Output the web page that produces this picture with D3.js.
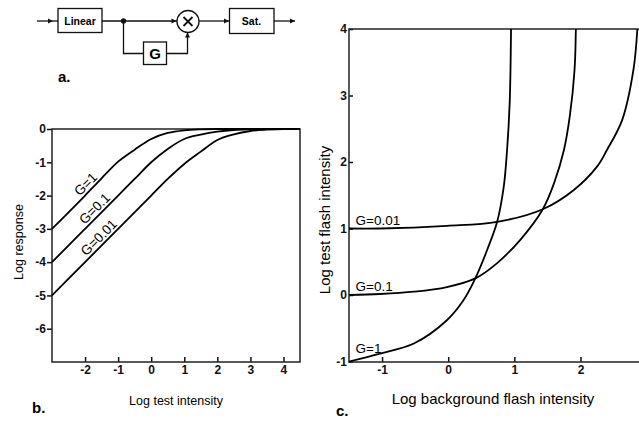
<!DOCTYPE html>
<html>
<head>
<meta charset="utf-8">
<script src="https://cdn.jsdelivr.net/npm/d3@7"></script>
<style>
  body { margin: 0; background: #fff; }
  svg { font-family: "Liberation Sans", Arial, sans-serif; }
</style>
</head>
<body>
<div id="fig"></div>
<script>
// Panel b: log response vs log test intensity, one curve per gain G
var respTicksX = [-2, -1, 0, 1, 2, 3, 4];
var respTicksY = [0, -1, -2, -3, -4, -5, -6];
var respG1   = [[-3,-3],[-2,-2],[-1.5,-1.48],[-1,-0.98],[-0.5,-0.62],[0,-0.3],[0.5,-0.12],[1,-0.04],[1.5,-0.01],[2,0],[4.5,0]];
var respG01  = [[-3,-4],[-2,-3],[-1,-2],[-0.5,-1.5],[0,-1.0],[0.5,-0.6],[1,-0.3],[1.5,-0.17],[2,-0.08],[2.5,-0.03],[3,-0.01],[3.5,0],[4.5,0]];
var respG001 = [[-3,-5],[-2,-4],[-1,-3],[0,-2],[0.5,-1.5],[1,-1.05],[1.5,-0.68],[2,-0.33],[2.5,-0.16],[3,-0.06],[3.5,-0.02],[4,0],[4.5,0]];
var respLabels = [
  {text: "G=1",    x: -1.82, curve: 0},
  {text: "G=0.1",  x: -1.55, curve: 1},
  {text: "G=0.01", x: -1.42, curve: 2}
];

// Panel c: log test flash intensity vs log background flash intensity
var threshTicksX = [-1, 0, 1, 2];
var threshTicksY = [-1, 0, 1, 2, 3, 4];
var threshG1   = [[-1.5,-1],[-1.03,-0.88],[-0.52,-0.73],[-0.02,-0.38],[0.23,-0.08],[0.41,0.25],[0.59,0.68],[0.74,1.1],[0.84,1.63],[0.89,2.18],[0.93,2.9],[0.95,4]];
var threshG01  = [[-1.5,0],[-1.03,0.015],[-0.52,0.05],[-0.02,0.12],[0.41,0.25],[0.74,0.48],[1.09,0.83],[1.43,1.29],[1.6,1.68],[1.75,2.18],[1.84,2.7],[1.91,3.38],[1.93,4]];
var threshG001 = [[-1.5,1],[-1.03,1.0],[-0.02,1.04],[0.74,1.1],[1.43,1.29],[1.9,1.58],[2.25,1.93],[2.4,2.18],[2.63,2.63],[2.8,3.38],[2.86,4]];
var threshLabels = [
  {text: "G=0.01", x: -1.4, y: 1},
  {text: "G=0.1",  x: -1.4, y: 0},
  {text: "G=1",    x: -1.4, y: -0.93}
];

var svg = d3.select("#fig").append("svg")
  .attr("width", 639)
  .attr("height", 423);

////////////////* a. BLOCK DIAGRAM *////////////////////
var diag = svg.append("g").attr("class", "diagram")
  .style("stroke", "#111").style("stroke-width", 1.3).style("fill", "none");

function arrowHead(x, y, dir) {
  // small filled triangle, tip at (x,y)
  var p = dir == "up" ? [[x,y],[x-2.5,y+5],[x+2.5,y+5]] : [[x,y],[x-5,y-2.5],[x-5,y+2.5]];
  diag.append("path").attr("d", "M" + p.join("L") + "Z").style("fill", "#111").style("stroke", "none");
}

diag.append("path").attr("d", "M37,21H58");
arrowHead(53, 21, "right");
diag.append("rect").attr("x", 58).attr("y", 8.5).attr("width", 44).attr("height", 24);
diag.append("path").attr("d", "M102,21H177");
arrowHead(176.5, 21, "right");
diag.append("circle").attr("cx", 123.5).attr("cy", 21).attr("r", 2).style("fill", "#111");
diag.append("circle").attr("cx", 188).attr("cy", 21.5).attr("r", 11);
diag.append("path").attr("d", "M183.5,17L192.5,26M192.5,17L183.5,26").style("stroke-width", 1.8);
diag.append("path").attr("d", "M123.5,21V53.5H143.5");
diag.append("rect").attr("x", 143.5).attr("y", 42).attr("width", 23).attr("height", 22.5);
diag.append("path").attr("d", "M166.5,53.5H187.5V33");
arrowHead(187.5, 32.5, "up");
diag.append("path").attr("d", "M199,21H229.5");
arrowHead(229, 21, "right");
diag.append("rect").attr("x", 229.5).attr("y", 8.5).attr("width", 44.5).attr("height", 25);
diag.append("path").attr("d", "M274,21H295");
arrowHead(295, 21, "right");

svg.append("text").attr("x", 80).attr("y", 24.5).attr("text-anchor", "middle")
  .style("font-size", "10.5px").style("font-weight", "bold").text("Linear");
svg.append("text").attr("x", 155).attr("y", 58.5).attr("text-anchor", "middle")
  .style("font-size", "15px").style("font-weight", "bold").text("G");
svg.append("text").attr("x", 251.5).attr("y", 25).attr("text-anchor", "middle")
  .style("font-size", "10.5px").style("font-weight", "bold").text("Sat.");
svg.append("text").attr("x", 58).attr("y", 82).style("font-size", "15px").style("font-weight", "bold").text("a.");

////////////////* b. RESPONSE CURVES *////////////////////
var xb = d3.scaleLinear().domain([-3, 4.5]).range([52, 300]);
var yb = d3.scaleLinear().domain([-7, 0]).range([362, 129]);

var gb = svg.append("g").attr("class", "panelB");

gb.append("g").attr("transform", "translate(0,362)")
  .call(d3.axisBottom(xb).tickValues(respTicksX).tickSize(-5).tickPadding(3).tickFormat(function(d){ return String(d); }))
  .call(function(g){ g.select(".domain").remove(); });
gb.append("g").attr("transform", "translate(52,0)")
  .call(d3.axisLeft(yb).tickValues(respTicksY).tickSize(5).tickPadding(1).tickFormat(function(d){ return String(d); }))
  .call(function(g){ g.select(".domain").remove(); });

gb.append("rect").attr("x", 52).attr("y", 129).attr("width", 248).attr("height", 233)
  .style("fill", "none").style("stroke", "#222").style("stroke-width", 1.5);

var lineB = d3.line()
  .x(function(d){ return xb(d[0]); })
  .y(function(d){ return yb(d[1]); })
  .curve(d3.curveMonotoneX);

var respCurves = [respG1, respG01, respG001];
gb.selectAll(".resp")
  .data(respCurves)
  .enter()
  .append("path")
    .attr("class", "resp")
    .attr("d", lineB)
    .style("fill", "none")
    .style("stroke", "#000")
    .style("stroke-width", 1.8);

// labels sit on the straight part of each curve, rotated along it
gb.selectAll(".respLabel")
  .data(respLabels)
  .enter()
  .append("text")
    .attr("class", "respLabel")
    .attr("transform", function(d) {
      var c = respCurves[d.curve];
      var yv = c[0][1] + (d.x - c[0][0]);
      return "translate(" + xb(d.x) + "," + yb(yv) + ") rotate(-45)";
    })
    .attr("dy", -3)
    .attr("text-anchor", "middle")
    .style("font-size", "13.5px")
    .text(function(d){ return d.text; });

gb.append("text").attr("x", 176).attr("y", 405).attr("text-anchor", "middle")
  .style("font-size", "12.5px").text("Log test intensity");
gb.append("text").attr("transform", "translate(23,242) rotate(-90)").attr("text-anchor", "middle")
  .style("font-size", "12.5px").text("Log response");
gb.append("text").attr("x", 32).attr("y", 413).style("font-size", "15px").style("font-weight", "bold").text("b.");

////////////////* c. THRESHOLD CURVES *////////////////////
var xc = d3.scaleLinear().domain([-1.5, 2.9]).range([349, 640]);
var yc = d3.scaleLinear().domain([-1, 4]).range([361.5, 29]);

var gc = svg.append("g").attr("class", "panelC");

gc.append("g").attr("transform", "translate(0,362)")
  .call(d3.axisBottom(xc).tickValues(threshTicksX).tickSize(-5).tickPadding(3).tickFormat(function(d){ return String(d); }))
  .call(function(g){ g.select(".domain").remove(); });
gc.append("g").attr("transform", "translate(349,0)")
  .call(d3.axisLeft(yc).tickValues(threshTicksY).tickSize(-4).tickPadding(2).tickFormat(function(d){ return String(d); }))
  .call(function(g){ g.select(".domain").remove(); });

gc.append("path").attr("d", "M639,29H349V362H639")
  .style("fill", "none").style("stroke", "#222").style("stroke-width", 1.5);

// these curves turn vertical, so a parametric spline reads better here
var lineC = d3.line()
  .x(function(d){ return xc(d[0]); })
  .y(function(d){ return yc(d[1]); })
  .curve(d3.curveCatmullRom.alpha(0.5));

gc.selectAll(".thresh")
  .data([threshG1, threshG01, threshG001])
  .enter()
  .append("path")
    .attr("class", "thresh")
    .attr("d", lineC)
    .style("fill", "none")
    .style("stroke", "#000")
    .style("stroke-width", 1.8);

gc.selectAll(".threshLabel")
  .data(threshLabels)
  .enter()
  .append("text")
    .attr("class", "threshLabel")
    .attr("x", function(d){ return xc(d.x); })
    .attr("y", function(d){ return yc(d.y) - 4; })
    .style("font-size", "13.5px")
    .text(function(d){ return d.text; });

gc.append("text").attr("x", 493).attr("y", 404).attr("text-anchor", "middle")
  .style("font-size", "15px").text("Log background flash intensity");
gc.append("text").attr("transform", "translate(330,220) rotate(-90)").attr("text-anchor", "middle")
  .style("font-size", "15px").text("Log test flash intensity");
gc.append("text").attr("x", 336).attr("y", 416).style("font-size", "15px").style("font-weight", "bold").text("c.");

// tick label styling shared by both panels
svg.selectAll(".tick text").style("font-size", "12px").style("font-weight", "bold").style("fill", "#111")
  .style("font-family", "'Liberation Sans', Arial, sans-serif");
svg.selectAll(".tick line").style("stroke", "#111").style("stroke-width", 1.5);
</script>
</body>
</html>
